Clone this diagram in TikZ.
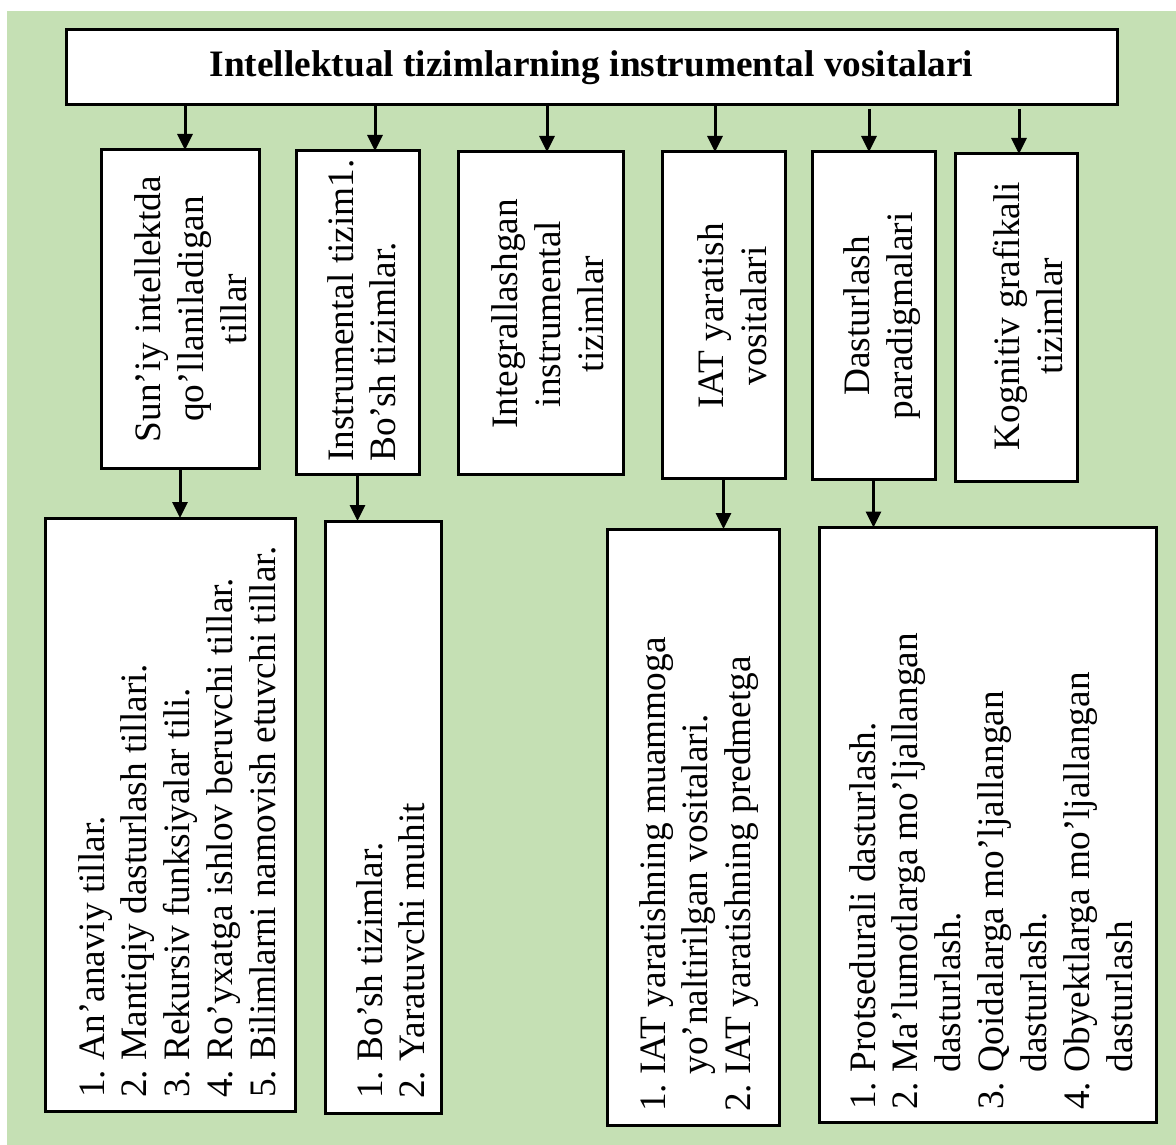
\documentclass[tikz,border=0pt]{standalone}
\usepackage{fontspec}
\setmainfont{Liberation Serif}
\usetikzlibrary{arrows.meta}
\definecolor{bggreen}{RGB}{197,224,180}
\begin{document}
\begin{tikzpicture}[x=1pt,y=-1pt,
  box/.style={draw=black, line width=3pt, fill=white, inner sep=0pt, outer sep=0pt},
  vtext/.style={rotate=90, inner sep=0pt, font=\frenchspacing\fontsize{37.3}{42.9}\selectfont},
  arr/.style={-{Triangle[width=15pt,length=16pt]}, line width=3pt}
]
\useasboundingbox (0,0) rectangle (1176,1145);
\fill[bggreen] (7,11) rectangle (1176,1145);

% title
\node[box, minimum width=1051pt, minimum height=75pt,
      font=\bfseries\fontsize{37.3}{42.9}\selectfont] (top) at (591.5,67.5)
      {Intellektual tizimlarning instrumental vositalari};

% second row
\node[box, minimum width=158pt, minimum height=318pt] (b1) at (180,309) {};
\node[box, minimum width=123pt, minimum height=323pt] (b2) at (357.5,312.5) {};
\node[box, minimum width=165pt, minimum height=322pt] (b3) at (540.5,313) {};
\node[box, minimum width=123pt, minimum height=326pt] (b4) at (723.5,315) {};
\node[box, minimum width=123pt, minimum height=327pt] (b5) at (873.5,315.5) {};
\node[box, minimum width=122pt, minimum height=327pt] (b6) at (1016,317.5) {};

\node[vtext, align=center] (b1t) at (191,309) {Sun’iy intellektda\\qo’llaniladigan\\tillar};
\node[vtext, align=left, anchor=north west] (b2t) at (327,462) {Instrumental tizim1.\\Bo’sh tizimlar.};
\node[vtext, align=center] (b3t) at (548,314) {Integrallashgan\\instrumental\\tizimlar};
\node[vtext, align=center] (b4t) at (732,316) {IAT yaratish\\vositalari};
\node[vtext, align=center] (b5t) at (882,316) {Dasturlash\\paradigmalari};
\node[vtext, align=center] (b6t) at (1028,316) {Kognitiv grafikali\\tizimlar};

% third row
\node[box, minimum width=250pt, minimum height=593pt] (lA) at (170,814.5) {};
\node[box, minimum width=116pt, minimum height=592pt] (lB) at (383,817) {};
\node[box, minimum width=172pt, minimum height=596pt] (lC) at (693,827) {};
\node[box, minimum width=337pt, minimum height=595pt] (lD) at (987.5,825) {};

\node[vtext, align=left, anchor=north west] (lAt) at (78,1098)
  {1. An’anaviy tillar.\\2. Mantiqiy dasturlash tillari.\\3. Rekursiv funksiyalar tili.\\4. Ro’yxatga ishlov beruvchi tillar.\\5. Bilimlarni namovish etuvchi tillar.};
\node[vtext, align=left, anchor=north west] (lBt) at (356,1099)
  {1. Bo’sh tizimlar.\\2. Yaratuvchi muhit};
\node[vtext, align=left, anchor=north west] (lCt) at (639,1112)
  {1. IAT yaratishning muammoga\\\hphantom{1. }yo’naltirilgan vositalari.\\2. IAT yaratishning predmetga};
\node[vtext, align=left, anchor=north west] (lDt) at (849,1110)
  {1. Protsedurali dasturlash.\\2. Ma’lumotlarga mo’ljallangan\\\hphantom{2. }dasturlash.\\3. Qoidalarga mo’ljallangan\\\hphantom{3. }dasturlash.\\4. Obyektlarga mo’ljallangan\\\hphantom{4. }dasturlash};

% arrow positions along the top box
\coordinate (a1) at ([xshift=5pt]b1.north);
\coordinate (a2) at ([xshift=17.5pt]b2.north);
\coordinate (a3) at ([xshift=6.5pt]b3.north);
\coordinate (a4) at ([xshift=-8.5pt]b4.north);
\coordinate (a5) at ([xshift=-4.5pt]b5.north);
\coordinate (a6) at ([xshift=3pt]b6.north);

\draw[arr] (a1 |- top.south) -- (a1);
\draw[arr] (a2 |- top.south) -- (a2);
\draw[arr] (a3 |- top.south) -- (a3);
\draw[arr] (a4 |- top.south) -- (a4);
\draw[arr, shorten <=4pt] (a5 |- top.south) -- (a5);
\draw[arr, shorten <=4pt] (a6 |- top.south) -- (a6);

\draw[arr] (b1.south) -- (b1.south |- lA.north);
\draw[arr] (b2.south) -- (b2.south |- lB.north);
\draw[arr] (b4.south) -- (b4.south |- lC.north);
\draw[arr] (b5.south) -- (b5.south |- lD.north);
\end{tikzpicture}
\end{document}
